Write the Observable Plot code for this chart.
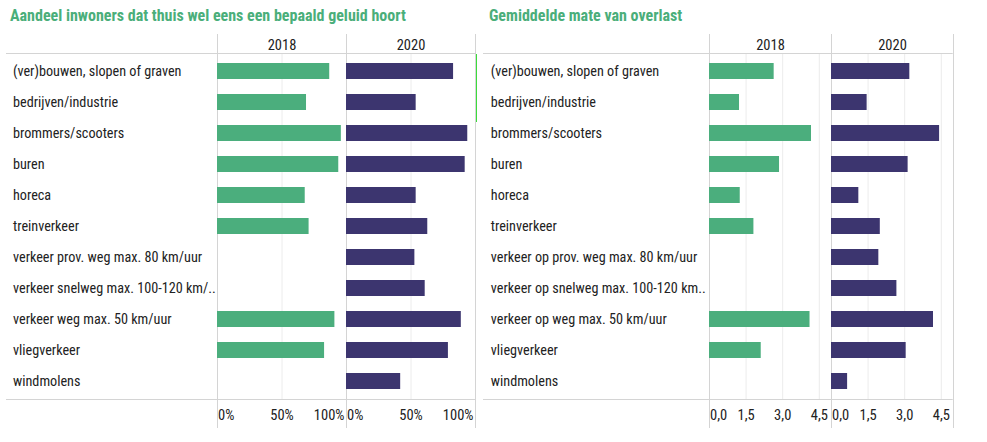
<!DOCTYPE html>
<html><head><meta charset="utf-8">
<script src="https://cdn.jsdelivr.net/npm/d3@7"></script>
<script src="https://cdn.jsdelivr.net/npm/@observablehq/plot@0.6"></script>
<style>
body{margin:0;background:#fff;font-family:"Roboto Condensed",Roboto,sans-serif;}
#wrap{position:relative;width:987px;height:442px;overflow:hidden;background:#fff}
.title{position:absolute;top:6px;font-weight:700;font-size:16px;color:#4aae7a;white-space:nowrap}
.chart{position:absolute;top:28px}
</style></head><body>
<div id="wrap">
<div class="title" style="left:10px">Aandeel inwoners dat thuis wel eens een bepaald geluid hoort</div>
<div class="title" style="left:489px">Gemiddelde mate van overlast</div>
<div id="c1" class="chart" style="left:0"></div>
<div id="c2" class="chart" style="left:480px"></div>
<div style="position:absolute;left:476px;top:54px;width:1px;height:68px;background:#3bdc3b"></div>
</div>
<script>
const years = ["2018", "2020"];
const shareCategories = ["(ver)bouwen, slopen of graven","bedrijven/industrie","brommers/scooters","buren","horeca","treinverkeer","verkeer prov. weg max. 80 km/uur","verkeer snelweg max. 100-120 km/..","verkeer weg max. 50 km/uur","vliegverkeer","windmolens"];
const share2018 = [0.87, 0.69, 0.96, 0.94, 0.68, 0.71, null, null, 0.91, 0.83, null];
const share2020 = [0.83, 0.54, 0.94, 0.92, 0.54, 0.63, 0.53, 0.61, 0.89, 0.79, 0.42];
const shareTicks = [0, 0.5, 1];
const nuisanceCategories = ["(ver)bouwen, slopen of graven","bedrijven/industrie","brommers/scooters","buren","horeca","treinverkeer","verkeer op prov. weg max. 80 km/uur","verkeer op snelweg max. 100-120 km..","verkeer op weg max. 50 km/uur","vliegverkeer","windmolens"];
const nuisance2018 = [2.65, 1.23, 4.18, 2.87, 1.26, 1.82, null, null, 4.12, 2.12, null];
const nuisance2020 = [3.21, 1.46, 4.43, 3.14, 1.12, 2.00, 1.94, 2.68, 4.18, 3.06, 0.66];
const nuisanceTicks = [0, 1.5, 3, 4.5];
const yearColors = ["#4bae7d", "#3c356f"];

function rows(cats, a, b) {
  const out = [];
  cats.forEach((c, i) => {
    if (a[i] != null) out.push({cat: c, year: years[0], v: a[i]});
    if (b[i] != null) out.push({cat: c, year: years[1], v: b[i]});
  });
  return out;
}

const FONT = '"Roboto Condensed", Roboto, sans-serif';
const FS = 14.5;
const LFS = 14.2;

function chart({cats, data, domain, ticks, fmt, width, marginLeft, marginRight, labelDx, lineStart}) {
  const mt = 25, mb = 30, h = 401;
  const startT = ticks.filter(t => t === domain[0]);
  const endT = ticks.filter(t => t === domain[1]);
  const midT = ticks.filter(t => t !== domain[0] && t !== domain[1]);
  const axisOpts = {tickSize: 0, tickPadding: 10, tickFormat: fmt, label: null, fontSize: FS, fill: "#222"};
  const p = Plot.plot({
    width, height: h, marginLeft, marginRight, marginTop: mt, marginBottom: mb,
    style: {fontFamily: FONT, fontSize: FS + "px", color: "#222", background: "transparent"},
    fx: {domain: years, padding: 0, label: null},
    x: {domain, label: null},
    y: {domain: cats, paddingInner: 0.5, paddingOuter: 0.25, label: null},
    color: {domain: years, range: yearColors},
    marks: [
      Plot.gridX(midT, {stroke: "#ececec", strokeOpacity: 1}),
      Plot.ruleX(domain, {stroke: "#d4d4d4", insetTop: -(mt - 6), insetBottom: -(mb - 1)}),
      Plot.barX(data, {fx: "year", y: "cat", x: "v", fill: "year"}),
      Plot.axisFx({anchor: "top", tickSize: 0, tickPadding: 4, label: null, fontSize: FS, fill: "#222"}),
      Plot.axisY({tickSize: 0, tickPadding: 0, textAnchor: "start", dx: labelDx, label: null, fontSize: LFS, fill: "#222"}),
      Plot.axisX(startT, {...axisOpts, textAnchor: "start", dx: 0.5}),
      Plot.axisX(midT, {...axisOpts, textAnchor: "middle"}),
      Plot.axisX(endT, {...axisOpts, textAnchor: "end", dx: -2})
    ]
  });
  const svg = d3.select(p);
  [mt, h - mb].forEach(y => {
    svg.append("line").attr("x1", lineStart).attr("x2", width - marginRight)
      .attr("y1", y + 0.5).attr("y2", y + 0.5).attr("stroke", "#d4d4d4");
  });
  return p;
}

document.getElementById("c1").appendChild(chart({
  cats: shareCategories, data: rows(shareCategories, share2018, share2020),
  domain: [0, 1], ticks: shareTicks, fmt: d3.format(".0%"),
  width: 480, marginLeft: 216.5, marginRight: 5, labelDx: -204.5, lineStart: 6
}));
document.getElementById("c2").appendChild(chart({
  cats: nuisanceCategories, data: rows(nuisanceCategories, nuisance2018, nuisance2020),
  domain: [0, 5], ticks: nuisanceTicks, fmt: d => d.toFixed(1).replace(".", ","),
  width: 478, marginLeft: 228.7, marginRight: 5.3, labelDx: -218.7, lineStart: 3
}));
</script>
</body></html>
